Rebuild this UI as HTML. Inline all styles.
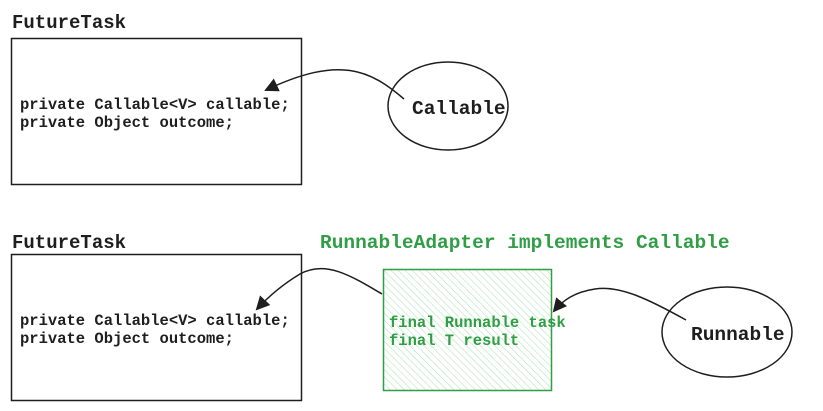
<!DOCTYPE html>
<html><head><meta charset="utf-8"><style>
html,body{margin:0;padding:0;background:#fff;}
svg{display:block;}
text{font-family:"Liberation Mono",monospace;font-weight:bold;}
</style></head><body>
<svg width="823" height="411" viewBox="0 0 823 411" xmlns="http://www.w3.org/2000/svg">
<defs>
<pattern id="h" patternUnits="userSpaceOnUse" width="5" height="5" patternTransform="rotate(-45)">
<line x1="0" y1="0" x2="0" y2="5" stroke="#b2e6b8" stroke-width="1.2"/>
</pattern>
<marker id="a" markerWidth="14" markerHeight="14" refX="12" refY="7" orient="auto" markerUnits="userSpaceOnUse">
<path d="M0,0 L14,7 L0,14 z" fill="#1e1e1e"/>
</marker>
</defs>
<text x="12" y="28" font-size="19" fill="#1e1e1e">FutureTask</text>
<rect x="11.5" y="38.5" width="290" height="146" fill="none" stroke="#1e1e1e" stroke-width="1.5"/>
<text x="20" y="109" font-size="15.5" fill="#1e1e1e">private Callable&lt;V&gt; callable;</text>
<text x="20" y="127" font-size="15.5" fill="#1e1e1e">private Object outcome;</text>
<ellipse cx="448" cy="106" rx="60" ry="44" fill="none" stroke="#1e1e1e" stroke-width="1.5"/>
<text x="412" y="114" font-size="19.5" fill="#1e1e1e">Callable</text>
<path d="M404,99 C370,70 340,55 266,90" fill="none" stroke="#1e1e1e" stroke-width="1.5" marker-end="url(#a)"/>

<text x="12" y="248" font-size="19" fill="#1e1e1e">FutureTask</text>
<rect x="11.5" y="254.5" width="290" height="146" fill="none" stroke="#1e1e1e" stroke-width="1.5"/>
<text x="20" y="325" font-size="15.5" fill="#1e1e1e">private Callable&lt;V&gt; callable;</text>
<text x="20" y="343" font-size="15.5" fill="#1e1e1e">private Object outcome;</text>

<text x="320" y="248" font-size="19.5" fill="#2f9e44">RunnableAdapter implements Callable</text>
<rect x="383.5" y="269.5" width="168" height="121" fill="url(#h)" stroke="#2f9e44" stroke-width="1.5"/>
<text x="389" y="327" font-size="15.5" fill="#2f9e44">final Runnable task</text>
<text x="389" y="345" font-size="15.5" fill="#2f9e44">final T result</text>

<ellipse cx="727" cy="332" rx="65" ry="45" fill="none" stroke="#1e1e1e" stroke-width="1.5"/>
<text x="691" y="340" font-size="19.5" fill="#1e1e1e">Runnable</text>
<path d="M382,294 C350,275 325,260 300,274 C285,283 270,295 257,309" fill="none" stroke="#1e1e1e" stroke-width="1.5" marker-end="url(#a)"/>
<path d="M686,320 C650,300 620,285 595,289 C575,292 563,300 554,311" fill="none" stroke="#1e1e1e" stroke-width="1.5" marker-end="url(#a)"/>
</svg>
</body></html>
